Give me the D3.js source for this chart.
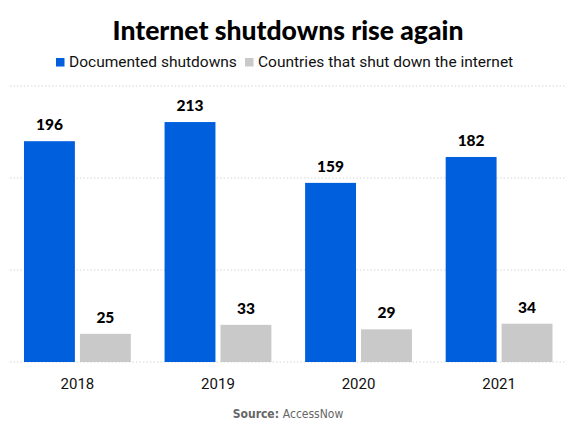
<!DOCTYPE html>
<html><head><meta charset="utf-8">
<script src="https://cdn.jsdelivr.net/npm/d3@7/dist/d3.min.js"></script>
<style>body{margin:0;background:#fff}svg{display:block}</style>
</head><body>
<svg id="c" width="576" height="432"></svg>
<script>
const years = ["2018","2019","2020","2021"];
const documented = [196,213,159,182];
const countries = [25,33,29,34];
const seriesNames = ["Documented shutdowns","Countries that shut down the internet"];
const colors = ["#005fdd","#c9c9c9"];

const svg = d3.select("#c");
const x = d3.scaleBand().domain(years).range([24,552.5]).paddingInner(0.24).paddingOuter(0);
const xi = d3.scaleBand().domain([0,1]).range([0,x.bandwidth()]).paddingInner(0.09);
const yMax = 245;
const y = d3.scaleLinear().domain([0,yMax]).range([362,86]);

// gridlines
const grid = [0,yMax/3,2*yMax/3,yMax];
svg.append("g").selectAll("line").data(grid).join("line")
  .attr("x1",10).attr("x2",566)
  .attr("y1",d=>y(d)).attr("y2",d=>y(d))
  .attr("stroke","#d6d6d6").attr("stroke-width",1).attr("stroke-dasharray","1.5,2");

const data = years.map((yr,i)=>({yr, vals:[documented[i],countries[i]]}));
const g = svg.append("g").selectAll("g").data(data).join("g")
  .attr("transform",d=>`translate(${x(d.yr)},0)`);
g.selectAll("rect").data(d=>d.vals.map((v,k)=>({v,k}))).join("rect")
  .attr("x",d=>xi(d.k)).attr("width",xi.bandwidth())
  .attr("y",d=>y(d.v)).attr("height",d=>y(0)-y(d.v))
  .attr("fill",d=>colors[d.k]);
g.selectAll("text.v").data(d=>d.vals.map((v,k)=>({v,k}))).join("text")
  .attr("class","v")
  .attr("x",d=>xi(d.k)+xi.bandwidth()/2).attr("y",d=>y(d.v)-11)
  .attr("text-anchor","middle")
  .style("font-family","Lato, 'Noto Sans', sans-serif").style("font-weight",900)
  .style("font-size","15.5px").attr("fill","#000")
  .text(d=>d.v);

// x axis labels
const xAxis = d3.axisBottom(x).tickSize(0).tickPadding(0);
const ax = svg.append("g").attr("transform","translate(0,378)").call(xAxis);
ax.select(".domain").remove();
ax.selectAll("text").attr("dy","0.71em").style("font-family","Roboto, 'Noto Sans', sans-serif")
  .style("font-size","15px").attr("fill","#111");

// title
svg.append("text").attr("x",288).attr("y",40).attr("text-anchor","middle")
  .style("font-family","Lato, 'Noto Sans', sans-serif").style("font-weight",900)
  .style("font-size","26.5px").attr("fill","#000")
  .text("Internet shutdowns rise again");

// legend
const leg = svg.append("g").attr("transform","translate(0,62)");
const legPos = [56,245];
seriesNames.forEach((n,i)=>{
  leg.append("rect").attr("x",legPos[i]).attr("y",-4).attr("width",8.5).attr("height",8.5).attr("fill",colors[i]);
  leg.append("text").attr("x",legPos[i]+13).attr("y",0).attr("dy","0.35em")
    .style("font-family","Roboto, 'Noto Sans', sans-serif").style("font-size","15.5px").attr("fill","#111")
    .text(n);
});

// source
const src = svg.append("text").attr("x",288).attr("y",418).attr("text-anchor","middle")
  .style("font-family","'DejaVu Sans Condensed', 'DejaVu Sans', sans-serif").style("font-stretch","condensed")
  .style("font-size","12px").attr("fill","#666");
src.append("tspan").style("font-weight","bold").text("Source: ");
src.append("tspan").text("AccessNow");
</script>
</body></html>
